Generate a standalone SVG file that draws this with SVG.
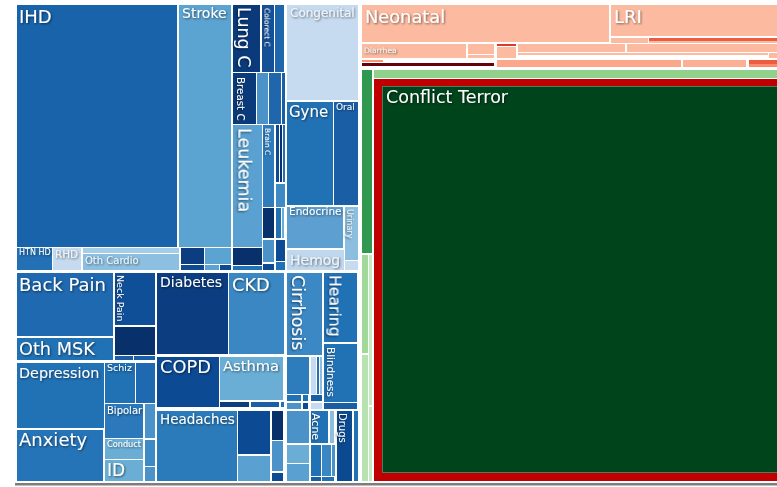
<svg xmlns="http://www.w3.org/2000/svg" width="777" height="487" viewBox="0 0 777 487">
<defs>
<filter id="ts" x="-10%" y="-30%" width="130%" height="170%"><feDropShadow dx="1" dy="1" stdDeviation="0.8" flood-color="#000" flood-opacity="0.55"/></filter>
</defs>
<style>
.t{font-family:"DejaVu Sans",Verdana,sans-serif;fill:#fff;filter:url(#ts)}
.lt{fill:#eef3f8}
.b1{fill:#08306b}.b2{fill:#0d4a94}.b3{fill:#1a5fa6}.b4{fill:#2171b5}.b5{fill:#3a87c3}.b6{fill:#4a92c8}.b7{fill:#5ba3d0}.b8{fill:#6aaed6}.b9{fill:#8cbfdf}.b10{fill:#c6dbef}
.p1{fill:#fcbba1}.p2{fill:#fca68b}.p3{fill:#ef5b3f}.p4{fill:#67000d}
</style>
<rect width="777" height="487" fill="#fff"/>

<!-- Cardio -->
<g id="ihd"><rect x="17" y="5" width="160" height="242" fill="#1863a9"/><text class="t" x="19" y="23" font-size="18">IHD</text></g>
<g id="stroke"><rect x="179" y="5" width="52" height="242" class="b7"/><text class="t" x="182" y="18" font-size="14">Stroke</text></g>
<g id="htnhd"><rect x="17" y="248" width="35" height="22" fill="#2370b5"/><text class="t" x="19" y="255" font-size="8">HTN HD</text></g>
<g id="rhd"><rect x="53" y="248" width="28" height="22" class="b10"/><text class="t lt" x="55" y="258" font-size="10.4">RHD</text></g>
<g id="othcardio"><rect x="83" y="248" width="96" height="5" fill="#a6cde7"/><rect x="83" y="254" width="96" height="16" fill="#8dbfe0"/><text class="t lt" x="85" y="264" font-size="10">Oth Cardio</text></g>
<g id="cardio-small">
<rect x="181" y="248" width="23" height="16" fill="#0b3d80"/>
<rect x="205" y="248" width="26" height="16" class="b7"/>
<rect x="181" y="265" width="23" height="5" class="b2"/>
<rect x="205" y="265" width="14" height="5" class="b7"/>
<rect x="220" y="265" width="11" height="5" class="b2"/>
</g>

<!-- Cancers -->
<g id="lungc"><rect x="233" y="5" width="27" height="67" fill="#0b3a7a"/><text class="t" transform="translate(238,7) rotate(90)" font-size="17.5">Lung C</text></g>
<g id="colorectc"><rect x="262" y="5" width="12" height="67" fill="#154f96"/><text class="t" transform="translate(264.5,8) rotate(90)" font-size="7.5">Colorect C</text></g>
<rect x="275" y="5" width="9" height="67" fill="#2066ac"/>
<g id="breastc"><rect x="233" y="73" width="23" height="51" fill="#0b3a7a"/><text class="t" transform="translate(237,77) rotate(90)" font-size="10.3">Breast C</text></g>
<g id="cancer-small">
<rect x="257" y="73" width="11" height="51" class="b6"/>
<rect x="269" y="73" width="12" height="51" fill="#2066ac"/>
<rect x="282" y="73" width="3" height="51" class="b3"/>
<rect x="276" y="125" width="3" height="57" class="b2"/>
<rect x="280" y="125" width="2" height="57" class="b1"/>
<rect x="283" y="125" width="2" height="57" class="b4"/>
<rect x="276" y="184" width="9" height="23" fill="#3d8ac4"/>
<rect x="276" y="208" width="5" height="30" class="b4"/>
<rect x="282" y="208" width="2" height="30" class="b8"/>
<rect x="276" y="240" width="9" height="21" class="b2"/>
<rect x="276" y="262" width="9" height="8" class="b4"/>
<rect x="263" y="208" width="11" height="30" class="b1"/>
<rect x="263" y="240" width="11" height="22" class="b6"/>
<rect x="263" y="264" width="11" height="6" class="b2"/>
<rect x="233" y="248" width="29" height="17" class="b1"/>
<rect x="233" y="266" width="29" height="4" class="b4"/>
</g>
<g id="leukemia"><rect x="233" y="125" width="29" height="122" fill="#5aa0d0"/><text class="t" transform="translate(238.5,128) rotate(90)" font-size="17.5">Leukemia</text></g>
<g id="brainc"><rect x="263" y="125" width="11" height="82" fill="#2e7cbc"/><text class="t" transform="translate(265,128) rotate(90)" font-size="7.5">Brain C</text></g>

<!-- Other NCD top -->
<g id="congenital"><rect x="287" y="5" width="71" height="95" class="b10"/><text class="t lt" x="290" y="17" font-size="12">Congenital</text></g>
<g id="gyne"><rect x="287" y="102" width="46" height="103" class="b4"/><text class="t" x="289" y="117" font-size="15">Gyne</text></g>
<g id="oral"><rect x="334" y="102" width="24" height="103" class="b3"/><text class="t" x="336" y="110" font-size="9">Oral</text></g>
<g id="endocrine"><rect x="287" y="207" width="56" height="41" fill="#5d9fd0"/><text class="t" x="289" y="215" font-size="10.5">Endocrine</text></g>
<g id="urinary"><rect x="345" y="207" width="13" height="53" class="b9"/><text class="t lt" transform="translate(347,209) rotate(90)" font-size="8">Urinary</text></g>
<rect x="345" y="261" width="13" height="9" class="b10"/>
<g id="hemog"><rect x="287" y="250" width="57" height="20" fill="#c0d8ee"/><text class="t lt" x="290" y="264.5" font-size="14">Hemog</text></g>

<!-- MSK -->
<g id="backpain"><rect x="17" y="273" width="96" height="63" fill="#1f69b0"/><text class="t" x="19" y="291" font-size="18">Back Pain</text></g>
<g id="othmsk"><rect x="17" y="338" width="96" height="22" class="b4"/><text class="t" x="19" y="355" font-size="17.7">Oth MSK</text></g>
<g id="neckpain"><rect x="115" y="273" width="40" height="52" fill="#0f4f98"/><text class="t" transform="translate(117,275) rotate(90)" font-size="9.5">Neck Pain</text></g>
<rect x="115" y="327" width="40" height="28" class="b1"/>
<rect x="115" y="356" width="18" height="4" class="b3"/>
<rect x="134" y="356" width="21" height="4" class="b3"/>

<!-- Diabetes CKD -->
<g id="diabetes"><rect x="157" y="273" width="71" height="81" fill="#0b3d80"/><text class="t" x="160" y="287" font-size="14">Diabetes</text></g>
<g id="ckd"><rect x="229" y="273" width="55" height="81" class="b5"/><text class="t" x="232" y="291" font-size="17.8">CKD</text></g>
<g id="cirrhosis"><rect x="287" y="273" width="35" height="82" fill="#3b88c4"/><text class="t" transform="translate(292,275) rotate(90)" font-size="17.4">Cirrhosis</text></g>
<g id="hearing"><rect x="324" y="273" width="33" height="69" class="b4"/><text class="t" transform="translate(329.5,275) rotate(90)" font-size="15.7">Hearing</text></g>
<g id="blindness"><rect x="324" y="344" width="33" height="58" class="b4"/><text class="t" transform="translate(327,347) rotate(90)" font-size="10.4">Blindness</text></g>
<rect x="324" y="403" width="33" height="6" class="b3"/>
<g id="digestive-small">
<rect x="287" y="357" width="22" height="37" fill="#2d7cbc"/>
<rect x="311" y="357" width="5" height="37" class="b10"/>
<rect x="317" y="357" width="2" height="37" class="b4"/>
<rect x="320" y="357" width="2" height="37" class="b9"/>
<rect x="287" y="395" width="14" height="6" class="b4"/>
<rect x="287" y="403" width="14" height="6" class="b6"/>
<rect x="303" y="395" width="5" height="6" class="b4"/>
<rect x="303" y="403" width="5" height="6" class="b2"/>
<rect x="311" y="395" width="11" height="6" class="b3"/>
<rect x="311" y="403" width="11" height="6" class="b10"/>
</g>

<!-- Respiratory -->
<g id="copd"><rect x="157" y="357" width="62" height="50" class="b2"/><text class="t" x="160" y="373" font-size="17.8">COPD</text></g>
<g id="asthma"><rect x="220" y="357" width="63" height="43" class="b8"/><text class="t" x="223" y="371" font-size="14.7">Asthma</text></g>
<rect x="220" y="402" width="29" height="5" fill="#0b3d80"/>
<rect x="251" y="402" width="28" height="5" class="b3"/>
<rect x="281" y="402" width="3" height="5" class="b4"/>

<!-- Mental -->
<g id="depression"><rect x="17" y="363" width="87" height="65" class="b4"/><text class="t" x="19" y="377.5" font-size="14.4">Depression</text></g>
<g id="anxiety"><rect x="17" y="430" width="86" height="51" fill="#2674b8"/><text class="t" x="19" y="446" font-size="18">Anxiety</text></g>
<g id="schiz"><rect x="105" y="363" width="30" height="40" class="b4"/><text class="t" x="107" y="371" font-size="9.5">Schiz</text></g>
<rect x="136" y="363" width="19" height="40" fill="#1f69b0"/>
<g id="bipolar"><rect x="105" y="404" width="38" height="34" fill="#2b78bb"/><text class="t" x="107" y="414" font-size="10">Bipolar</text></g>
<rect x="145" y="404" width="10" height="34" class="b6"/>
<g id="conduct"><rect x="105" y="439" width="38" height="20" class="b8"/><text class="t" x="107" y="447" font-size="8.2">Conduct</text></g>
<g id="id"><rect x="105" y="460" width="38" height="21" class="b8"/><text class="t" x="107" y="476" font-size="17">ID</text></g>
<rect x="145" y="440" width="10" height="26" fill="#3d8ac4"/>
<rect x="145" y="467" width="10" height="14" class="b6"/>

<!-- Neuro -->
<g id="headaches"><rect x="157" y="411" width="80" height="70" fill="#2b7bba"/><text class="t" x="160" y="424" font-size="13.5">Headaches</text></g>
<rect x="238" y="411" width="32" height="43" class="b2"/>
<rect x="238" y="456" width="32" height="25" fill="#5aa0d0"/>
<rect x="272" y="411" width="11" height="29" class="b1"/>
<rect x="272" y="441" width="11" height="30" class="b6"/>
<rect x="272" y="473" width="11" height="8" class="b2"/>

<!-- Skin / Drugs -->
<rect x="287" y="411" width="22" height="32" class="b6"/>
<rect x="287" y="445" width="22" height="18" class="b8"/>
<rect x="287" y="464" width="22" height="17" fill="#5aa0d0"/>
<g id="acne"><rect x="311" y="411" width="17" height="32" class="b4"/><text class="t" transform="translate(312,413) rotate(90)" font-size="11">Acne</text></g>
<rect x="330" y="411" width="4" height="32" class="b9"/>
<rect x="311" y="445" width="10" height="31" class="b4"/>
<rect x="322" y="445" width="9" height="31" class="b5"/>
<rect x="332" y="445" width="3" height="31" class="b6"/>
<rect x="311" y="477" width="10" height="4" class="b3"/>
<rect x="322" y="477" width="12" height="4" class="b4"/>
<g id="drugs"><rect x="337" y="411" width="15" height="70" fill="#0b4a90"/><text class="t" transform="translate(339,413) rotate(90)" font-size="10">Drugs</text></g>
<rect x="354" y="411" width="4" height="70" class="b4"/>

<!-- Communicable -->
<g id="neonatal"><rect x="362" y="5" width="247" height="37" class="p1"/><text class="t" x="365" y="23" font-size="17.8">Neonatal</text></g>
<g id="lri"><rect x="611" y="5" width="166" height="31" class="p1"/><text class="t" x="614" y="23" font-size="18">LRI</text></g>
<rect x="611" y="38" width="37" height="5" class="p1"/>
<rect x="649" y="38" width="128" height="3" class="p3"/>
<rect x="649" y="41" width="128" height="2" class="p1"/>
<g id="diarrhea"><rect x="362" y="44" width="104" height="14" class="p1"/><text class="t lt" x="364" y="53" font-size="7.6">Diarrhea</text></g>
<rect x="468" y="44" width="26" height="10" class="p1"/>
<rect x="468" y="55" width="26" height="3" class="p1"/>
<rect x="497" y="44" width="19" height="2" fill="#de3a2c"/>
<rect x="497" y="47" width="19" height="11" class="p1"/>
<rect x="518" y="44" width="107" height="8" class="p1"/>
<rect x="627" y="44" width="150" height="8" class="p1"/>
<rect x="518" y="53" width="250" height="2" class="p1"/>
<rect x="769" y="53" width="8" height="5" class="p1"/>
<rect x="362" y="60" width="21" height="2" fill="#fc9272"/>
<rect x="362" y="63" width="132" height="3" class="p4"/>
<rect x="497" y="60" width="184" height="7" class="p2"/>
<rect x="683" y="60" width="63" height="7" fill="#fcaf95"/>
<rect x="749" y="60" width="28" height="4" class="p3"/>
<rect x="749" y="64" width="28" height="3" fill="#fc8a6a"/>

<!-- Injuries -->
<rect x="362" y="70" width="10" height="183" fill="#31994f"/>
<rect x="362" y="255" width="6" height="98" fill="#a1d99b"/>
<rect x="362" y="355" width="6" height="126" fill="#b8e3b0"/>
<rect x="369" y="255" width="3" height="150" fill="#c7e9c0"/>
<rect x="369" y="407" width="3" height="74" fill="#c7e9c0"/>
<rect x="374" y="70" width="403" height="8" fill="#90d18b"/>
<g id="conflictterror"><rect x="374" y="79" width="403" height="402" fill="#c00000"/><rect x="382.5" y="86.5" width="395" height="386" fill="#00441b" stroke="#4d7d5d" stroke-width="1"/><text class="t" x="386" y="103" font-size="17.5">Conflict Terror</text></g>

<!-- bottom axis line -->
<rect x="15" y="483" width="762" height="2" fill="#7d7d7d"/>
<rect x="15" y="485" width="762" height="1" fill="#bcbcbc"/>
</svg>
